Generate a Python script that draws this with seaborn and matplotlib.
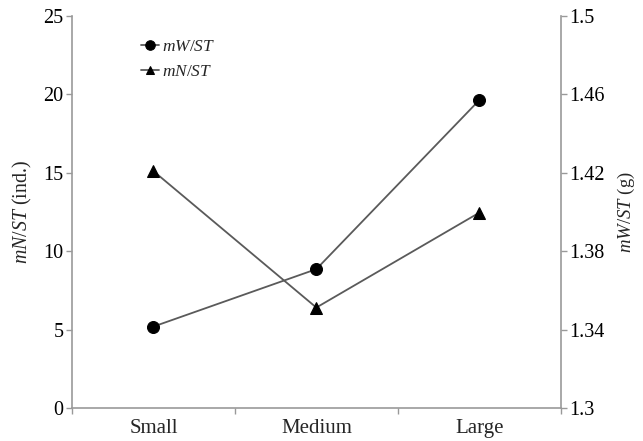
import numpy as np
import pandas as pd
import matplotlib
matplotlib.use("Agg")
import matplotlib.pyplot as plt
import seaborn as sns

sizes = ["Small", "Medium", "Large"]
mN_ST = [15.1, 6.4, 12.45]
mW_ST = [1.3415, 1.3708, 1.457]

sns.set_style("white")
plt.rcParams["font.family"] = ["Liberation Serif", "DejaVu Serif"]
plt.rcParams["mathtext.fontset"] = "custom"
plt.rcParams["mathtext.it"] = "Liberation Serif:italic"
plt.rcParams["mathtext.rm"] = "Liberation Serif"

df = pd.DataFrame({"size": sizes, "mN": mN_ST, "mW": mW_ST})

fig = plt.figure(figsize=(6.43, 4.41), dpi=100)
ax = fig.add_axes([0.112, 0.075, 0.76, 0.889])
ax2 = ax.twinx()

line_col = "#5a5a5a"
sns.lineplot(data=df, x="size", y="mN", ax=ax, sort=False, color=line_col, lw=1.3,
             marker="^", markersize=8, markerfacecolor="black", markeredgecolor="black",
             label=r"$mN/ST$", legend=False)
sns.lineplot(data=df, x="size", y="mW", ax=ax2, sort=False, color=line_col, lw=1.3,
             marker="o", markersize=8.6, markerfacecolor="black", markeredgecolor="black",
             label=r"$mW/ST$", legend=False)

ax.set_xlim(-0.5, 2.5)
ax.set_ylim(0, 25)
ax2.set_ylim(1.3, 1.5)
ax.set_yticks([0, 5, 10, 15, 20, 25])
ax2.set_yticks([1.3, 1.34, 1.38, 1.42, 1.46, 1.5])
ax2.set_yticklabels(["1.3", "1.34", "1.38", "1.42", "1.46", "1.5"])

# category boundaries as major ticks, labels centred on minor ticks
ax.set_xticks([-0.5, 0.5, 1.5, 2.5])
ax.set_xticklabels([])
ax.set_xticks([0, 1, 2], minor=True)
ax.set_xticklabels(sizes, minor=True)
ax.tick_params(axis="x", which="minor", length=0, pad=8, labelsize=15)

spine_col = "#999999"
for a in (ax, ax2):
    a.spines["top"].set_visible(False)
    for s in ("left", "right", "bottom"):
        a.spines[s].set_color(spine_col)
        a.spines[s].set_linewidth(1.2)
    a.grid(False)
ax.spines["right"].set_visible(False)
ax2.spines["left"].set_visible(False)
ax2.spines["bottom"].set_visible(False)

ax.tick_params(axis="both", which="major", direction="out", length=4, width=1,
               color=spine_col, labelsize=14.5, labelcolor="black")
ax.tick_params(axis="y", left=True, pad=2)
ax.tick_params(axis="x", bottom=True)
ax2.tick_params(axis="y", right=True, direction="out", length=4, width=1,
                color=spine_col, labelsize=14.5, labelcolor="black", pad=2)

ax.set_xlabel("")
ax.set_ylabel(r"$mN/ST$ (ind.)", fontsize=14.3, labelpad=7)
ax2.set_ylabel(r"$mW/ST$ (g)", fontsize=13.5, labelpad=8)

h1, l1 = ax2.get_legend_handles_labels()
h2, l2 = ax.get_legend_handles_labels()
ax.legend(h1 + h2, l1 + l2, loc="upper left", bbox_to_anchor=(0.11, 0.98),
          frameon=False, fontsize=12.5, handlelength=1.0, handletextpad=0.2,
          labelspacing=0.5, markerscale=0.8)

fig.savefig("out.png", dpi=100)
